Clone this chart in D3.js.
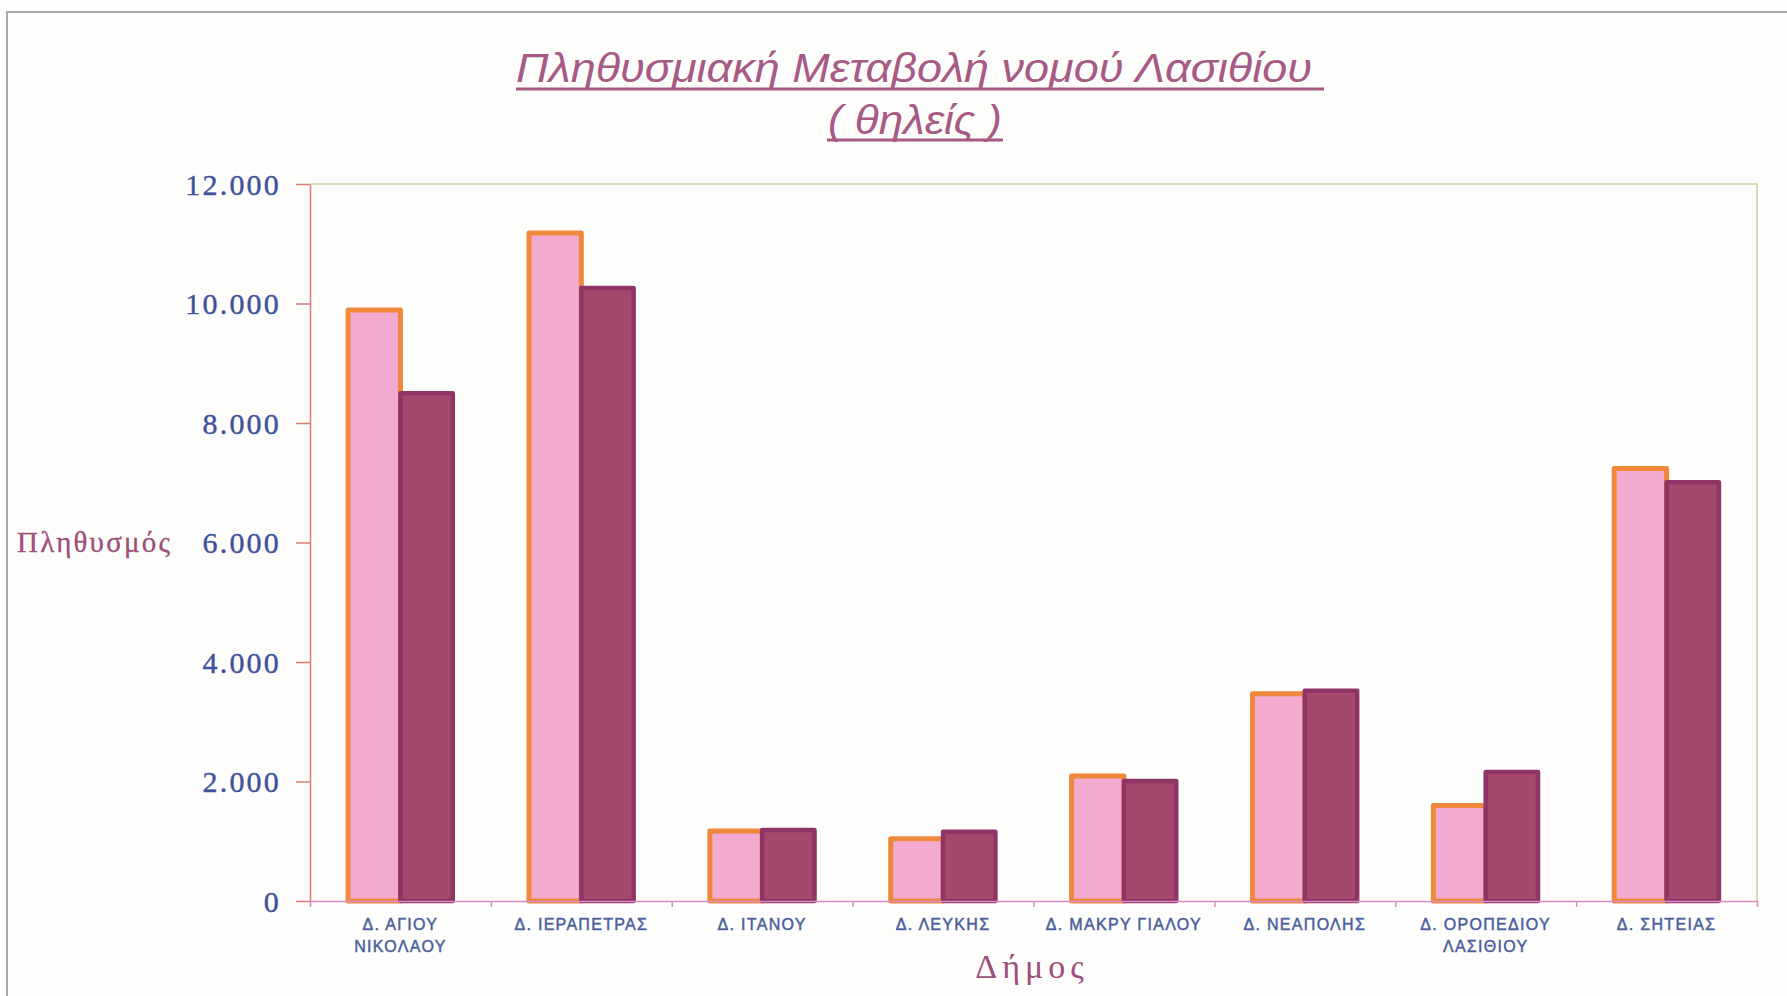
<!DOCTYPE html>
<html>
<head>
<meta charset="utf-8">
<script src="https://cdn.jsdelivr.net/npm/d3@7"></script>
<style>
  html, body { margin: 0; padding: 0; background: #fdfdfc; }
  svg { display: block; }
</style>
</head>
<body>
<svg id="chart" width="1787" height="996"></svg>
<script>
// data
const dimoi = [
  ["Δ. ΑΓΙΟΥ", "ΝΙΚΟΛΑΟΥ"],
  ["Δ. ΙΕΡΑΠΕΤΡΑΣ"],
  ["Δ. ΙΤΑΝΟΥ"],
  ["Δ. ΛΕΥΚΗΣ"],
  ["Δ. ΜΑΚΡΥ ΓΙΑΛΟΥ"],
  ["Δ. ΝΕΑΠΟΛΗΣ"],
  ["Δ. ΟΡΟΠΕΔΙΟΥ", "ΛΑΣΙΘΙΟΥ"],
  ["Δ. ΣΗΤΕΙΑΣ"]
];
const series = ["first", "second"];
const firstValues = [9890, 11180, 1170, 1040, 2090, 3470, 1600, 7240];
const secondValues = [8500, 10260, 1190, 1160, 2010, 3520, 2160, 7010];
const yTicks = [0, 2000, 4000, 6000, 8000, 10000, 12000];

// plot box
const plotLeft = 310, plotRight = 1757, plotTop = 184, plotBottom = 901;

const svg = d3.select("#chart");

// background + scanned page border
svg.append("rect").attr("width", 1787).attr("height", 996).attr("fill", "#fdfdfc");
svg.append("path")
  .attr("d", "M7,996 V12 H1787")
  .attr("fill", "none")
  .attr("stroke", "#a9a9a9")
  .attr("stroke-width", 2);

const cats = dimoi.map(d => d.join(" "));
const x0 = d3.scaleBand().domain(cats).range([plotLeft, plotRight]);
const x1 = d3.scaleBand().domain(series).range([0, x0.bandwidth()]).paddingOuter(0.728);
const y = d3.scaleLinear().domain([0, 12000]).range([plotBottom, plotTop]);

const fmt = d3.formatLocale({ decimal: ",", thousands: ".", grouping: [3], currency: ["", "€"] }).format(",d");

// plot area top/right border
svg.append("path")
  .attr("d", `M${plotLeft},${plotTop} H${plotRight} V${plotBottom}`)
  .attr("fill", "none")
  .attr("stroke", "#dadab4")
  .attr("stroke-width", 2);

// bars
const styles = {
  first: { fill: "#f2aad0", stroke: "#f0883c", sw: 5 },
  second: { fill: "#a5486e", stroke: "#8f3466", sw: 4.5 }
};
const rows = cats.map((c, i) => ({ cat: c, vals: [
  { key: "first", value: firstValues[i] },
  { key: "second", value: secondValues[i] }
] }));

const groups = svg.append("g").selectAll("g")
  .data(rows)
  .join("g")
  .attr("transform", d => `translate(${x0(d.cat)},0)`);

groups.selectAll("rect")
  .data(d => d.vals)
  .join("rect")
  .attr("x", d => x1(d.key))
  .attr("y", d => y(d.value))
  .attr("width", x1.bandwidth())
  .attr("height", d => y(0) - y(d.value))
  .attr("fill", d => styles[d.key].fill)
  .attr("stroke", d => styles[d.key].stroke)
  .attr("stroke-width", d => styles[d.key].sw)
  .attr("stroke-linejoin", "round");

// y axis
const yAxis = svg.append("g")
  .attr("transform", `translate(${plotLeft},0)`)
  .call(d3.axisLeft(y).tickValues(yTicks).tickSize(14).tickSizeOuter(0).tickFormat(""));
yAxis.select(".domain").attr("stroke", "#dc7a76").attr("stroke-width", 1.5);
yAxis.selectAll(".tick line").attr("stroke", "#dc7a76").attr("stroke-width", 1.5);

svg.append("g").selectAll("text")
  .data(yTicks)
  .join("text")
  .attr("x", 281)
  .attr("y", d => y(d) + 10.5)
  .attr("text-anchor", "end")
  .attr("fill", "#3f519a")
  .attr("stroke", "#3f519a")
  .attr("stroke-width", 0.4)
  .style("font-family", "'Liberation Serif', 'Times New Roman', serif")
  .style("font-size", "30px")
  .style("letter-spacing", "2.2px")
  .text(d => fmt(d));

// x axis with ticks on category boundaries
const xb = d3.scaleLinear().domain([0, cats.length]).range([plotLeft, plotRight]);
const xAxis = svg.append("g")
  .attr("transform", `translate(0,${plotBottom})`)
  .call(d3.axisBottom(xb).ticks(cats.length).tickSize(6).tickSizeOuter(0).tickFormat(""));
xAxis.select(".domain").attr("stroke", "#d88cc4").attr("stroke-width", 1.5);
xAxis.selectAll(".tick line").attr("stroke", "#d88cc4").attr("stroke-width", 1.5);

// category labels
const lab = svg.append("g").selectAll("text")
  .data(rows.map((r, i) => ({ cat: r.cat, lines: dimoi[i] })))
  .join("text")
  .attr("text-anchor", "middle")
  .attr("fill", "#4a5d9c")
  .attr("stroke", "#4a5d9c")
  .attr("stroke-width", 0.45)
  .style("font-family", "'Liberation Sans', Arial, sans-serif")
  .style("font-size", "16px")
  .style("letter-spacing", "1.3px");
lab.selectAll("tspan")
  .data(d => d.lines.map((t, j) => ({ t, j, cx: x0(d.cat) + x0.bandwidth() / 2 })))
  .join("tspan")
  .attr("x", d => d.cx)
  .attr("y", d => 930 + d.j * 22)
  .text(d => d.t);

// axis titles
svg.append("text")
  .attr("x", 1032)
  .attr("y", 978)
  .attr("text-anchor", "middle")
  .attr("fill", "#9e4e7a")
  .style("font-family", "'Liberation Serif', 'Times New Roman', serif")
  .style("font-size", "34px")
  .style("letter-spacing", "5px")
  .text("Δήμος");

svg.append("text")
  .attr("x", 17)
  .attr("y", 552)
  .attr("fill", "#9e4e7a")
  .attr("stroke", "#9e4e7a")
  .attr("stroke-width", 0.3)
  .style("font-family", "'Liberation Serif', 'Times New Roman', serif")
  .style("font-size", "29px")
  .style("letter-spacing", "2.2px")
  .text("Πληθυσμός");

// title, italic and underlined
const titleColor = "#a65a84";
const titleLines = [
  { text: "Πληθυσμιακή Μεταβολή νομού Λασιθίου", x: 516, w: 796, base: 82, ux: [516, 1324], uy: 89 },
  { text: "( θηλείς )", x: 828, w: 174, base: 134, ux: [827, 1003], uy: 140 }
];
titleLines.forEach(t => {
  svg.append("text")
    .attr("x", t.x)
    .attr("y", t.base)
    .attr("textLength", t.w)
    .attr("lengthAdjust", "spacingAndGlyphs")
    .attr("fill", titleColor)
    .style("font-family", "'Liberation Sans', Arial, sans-serif")
    .style("font-style", "italic")
    .style("font-size", "41px")
    .text(t.text);
  svg.append("line")
    .attr("x1", t.ux[0]).attr("x2", t.ux[1])
    .attr("y1", t.uy).attr("y2", t.uy)
    .attr("stroke", titleColor)
    .attr("stroke-width", 3);
});
</script>
</body>
</html>
